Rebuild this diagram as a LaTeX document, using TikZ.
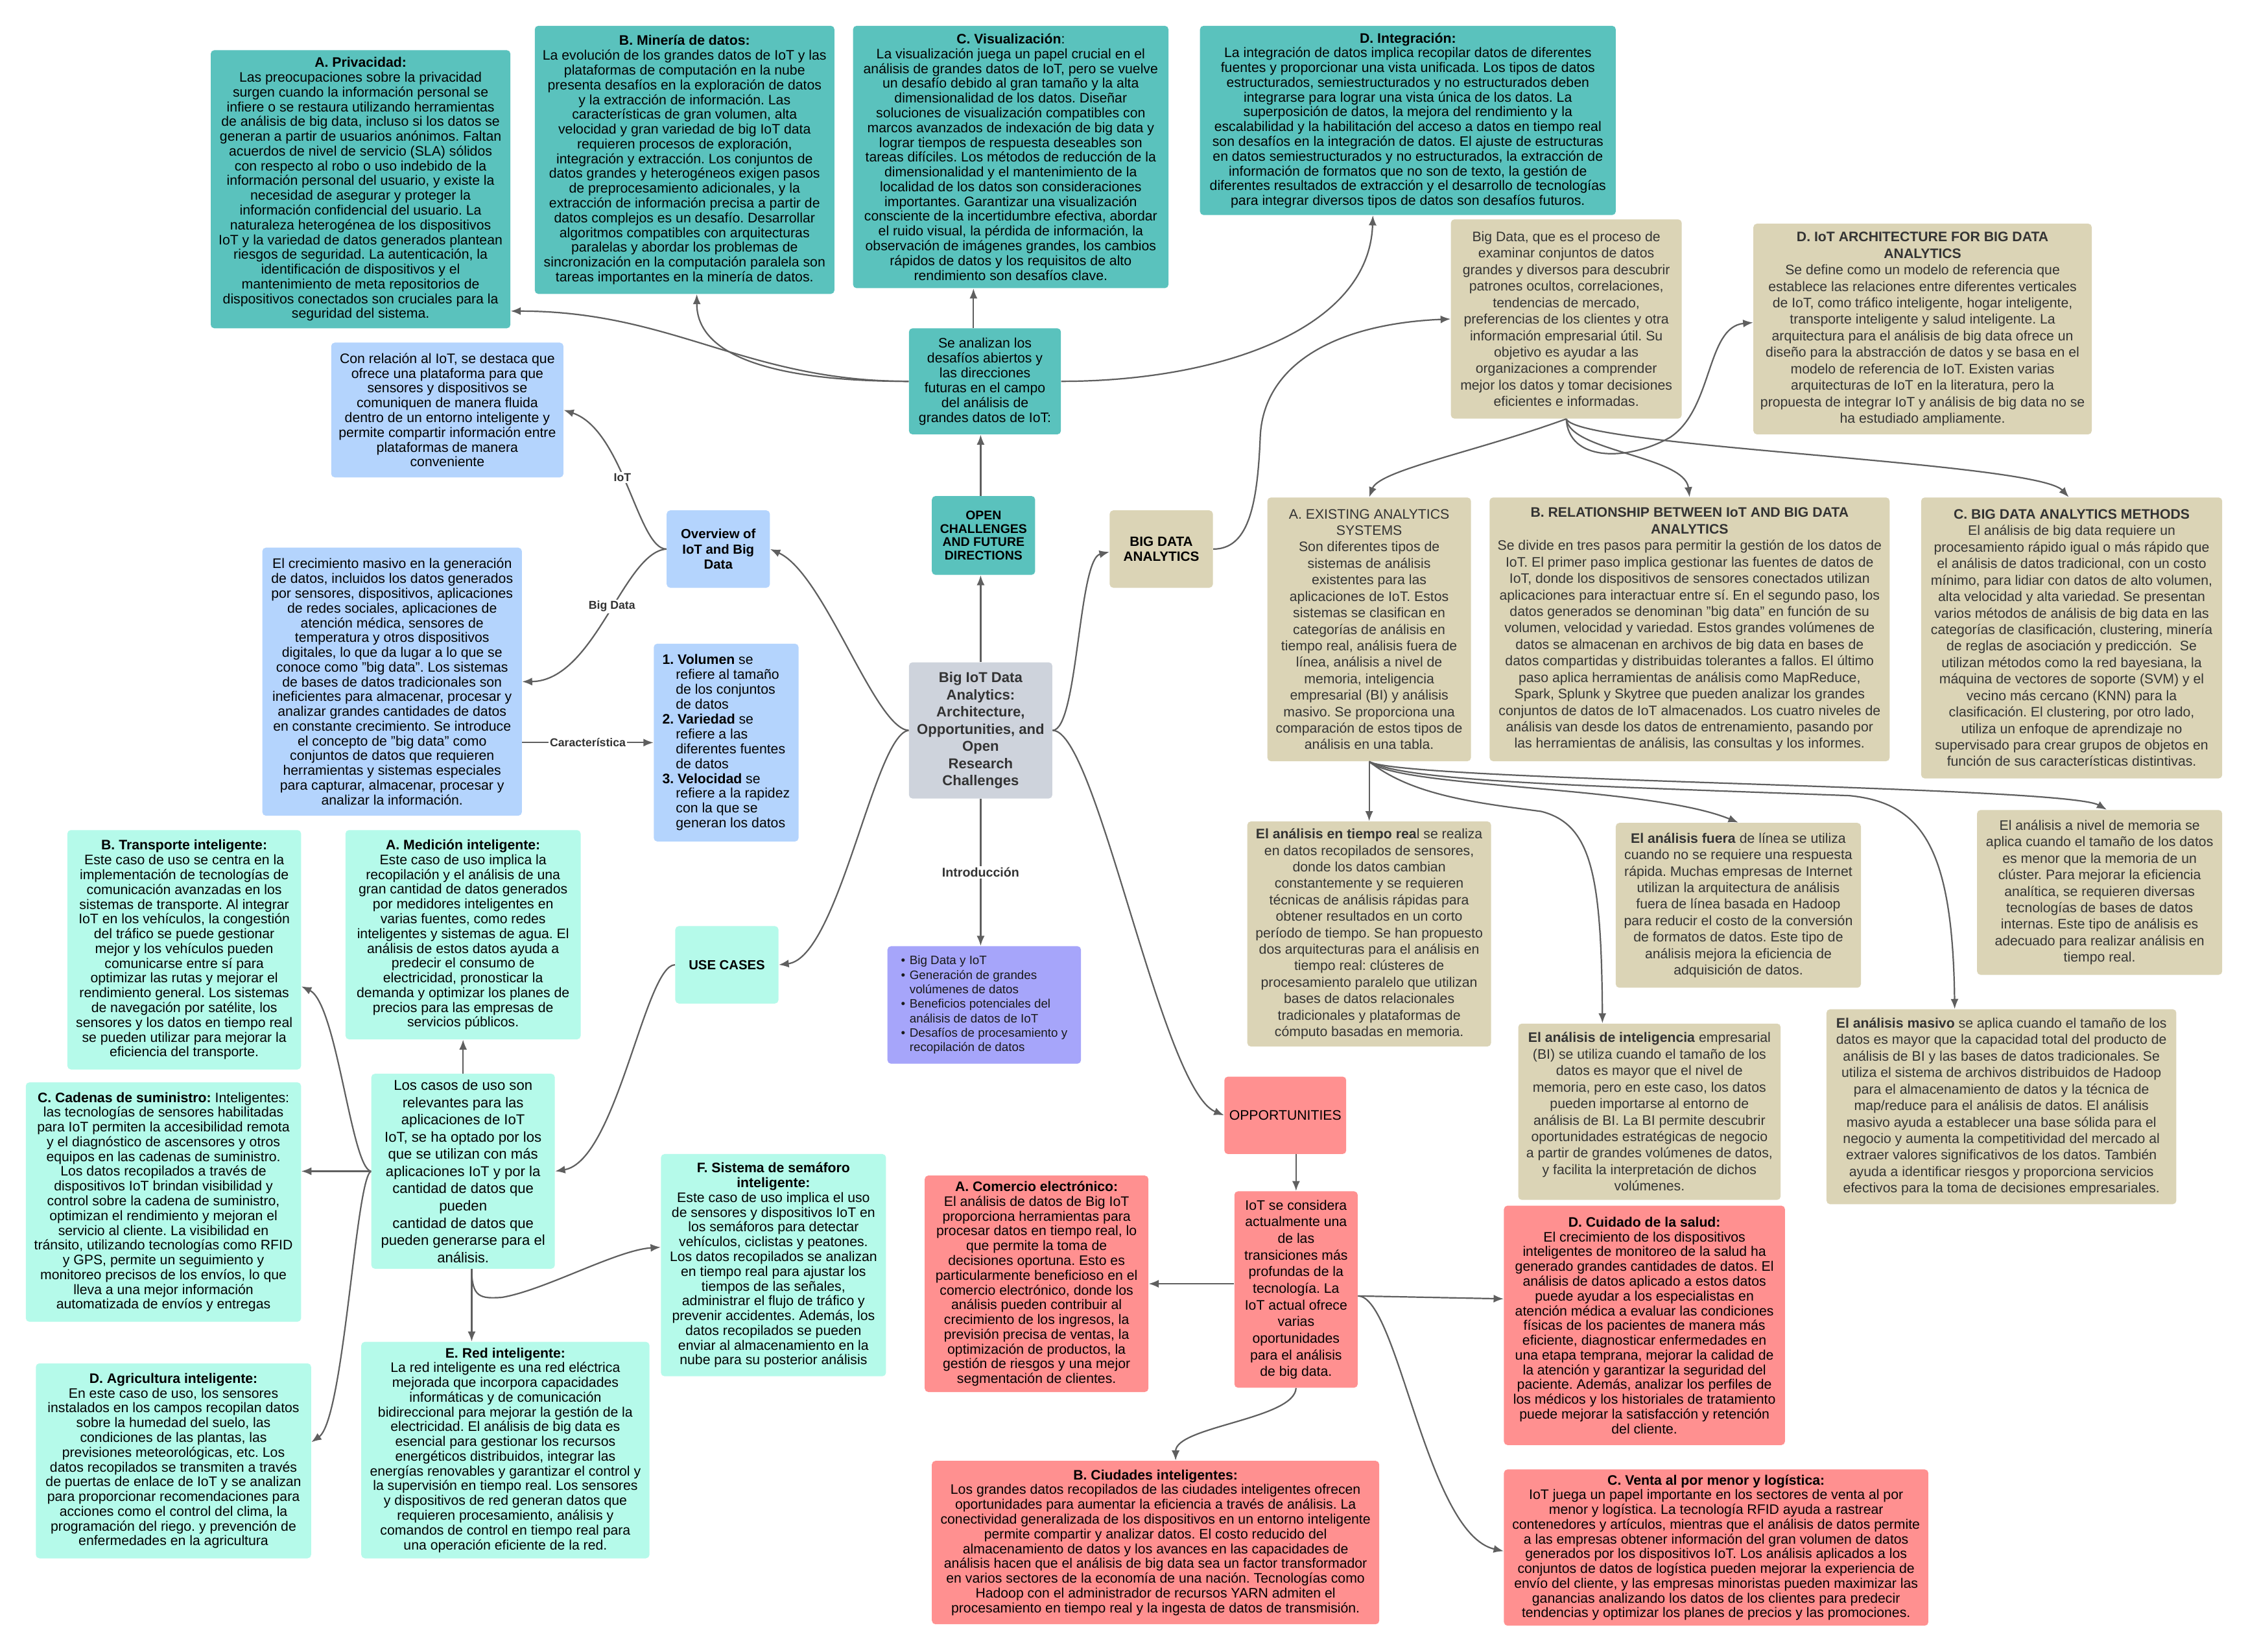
\documentclass[tikz,border=0pt]{standalone}
\usepackage{fontspec}
\setmainfont{Liberation Sans}
\usetikzlibrary{arrows.meta}
\frenchspacing
\definecolor{cteal}{HTML}{5AC2BD}
\definecolor{cblue}{HTML}{B4D4FD}
\definecolor{cgray}{HTML}{CED3DC}
\definecolor{cpurple}{HTML}{A6A5FA}
\definecolor{ctan}{HTML}{DBD4B6}
\definecolor{cmint}{HTML}{B5FAEA}
\definecolor{cpink}{HTML}{FF9090}
\definecolor{cline}{HTML}{5F5F5F}
\definecolor{ctext}{HTML}{333333}
\tikzset{
  bx/.style={rounded corners=2.5pt, inner sep=0pt, align=center, text=black},
  sz/.style 2 args={minimum width=#1pt, minimum height=#2pt},
  nf/.style={font=\fontsize{9.6}{10.3}\selectfont},
  wf/.style={font=\fontsize{9.6}{11.5}\selectfont},
  tealbox/.style={bx, fill=cteal, nf},
  bluebox/.style={bx, fill=cblue, nf},
  mintbox/.style={bx, fill=cmint, nf},
  pinkbox/.style={bx, fill=cpink, nf},
  tanbox/.style={bx, fill=ctan, wf, text=ctext},
  conn/.style={draw=cline, line width=1pt, -{Latex[length=7pt,width=5.5pt]}},
  lbl/.style={fill=white, inner sep=1pt, text=ctext, font=\fontsize{8}{9}\selectfont\bfseries},
}
\begin{document}
\begin{tikzpicture}[x=1pt, y=-1pt]
\useasboundingbox[fill=white] (0,0) rectangle (1568,1152);

% ---------- Open challenges (teal) ----------
\node[tealbox, sz={209}{194}] (priv) at (251.5,132) {\textbf{A. Privacidad:}\\
Las preocupaciones sobre la privacidad\\
surgen cuando la información personal se\\
infiere o se restaura utilizando herramientas\\
de análisis de big data, incluso si los datos se\\
generan a partir de usuarios anónimos. Faltan\\
acuerdos de nivel de servicio (SLA) sólidos\\
con respecto al robo o uso indebido de la\\
información personal del usuario, y existe la\\
necesidad de asegurar y proteger la\\
información confidencial del usuario. La\\
naturaleza heterogénea de los dispositivos\\
IoT y la variedad de datos generados plantean\\
riesgos de seguridad. La autenticación, la\\
identificación de dispositivos y el\\
mantenimiento de meta repositorios de\\
dispositivos conectados son cruciales para la\\
seguridad del sistema.};

\node[tealbox, sz={209}{187}] (mineria) at (477.5,111.5) {\textbf{B. Minería de datos:}\\
La evolución de los grandes datos de IoT y las\\
plataformas de computación en la nube\\
presenta desafíos en la exploración de datos\\
y la extracción de información. Las\\
características de gran volumen, alta\\
velocidad y gran variedad de big IoT data\\
requieren procesos de exploración,\\
integración y extracción. Los conjuntos de\\
datos grandes y heterogéneos exigen pasos\\
de preprocesamiento adicionales, y la\\
extracción de información precisa a partir de\\
datos complejos es un desafío. Desarrollar\\
algoritmos compatibles con arquitecturas\\
paralelas y abordar los problemas de\\
sincronización en la computación paralela son\\
tareas importantes en la minería de datos.};

\node[tealbox, sz={220}{183}] (visu) at (705,109.5) {\textbf{C. Visualización}:\\
La visualización juega un papel crucial en el\\
análisis de grandes datos de IoT, pero se vuelve\\
un desafío debido al gran tamaño y la alta\\
dimensionalidad de los datos. Diseñar\\
soluciones de visualización compatibles con\\
marcos avanzados de indexación de big data y\\
lograr tiempos de respuesta deseables son\\
tareas difíciles. Los métodos de reducción de la\\
dimensionalidad y el mantenimiento de la\\
localidad de los datos son consideraciones\\
importantes. Garantizar una visualización\\
consciente de la incertidumbre efectiva, abordar\\
el ruido visual, la pérdida de información, la\\
observación de imágenes grandes, los cambios\\
rápidos de datos y los requisitos de alto\\
rendimiento son desafíos clave.};

\node[tealbox, sz={290}{132}] (integ) at (982,84) {\textbf{D. Integración:}\\
La integración de datos implica recopilar datos de diferentes\\
fuentes y proporcionar una vista unificada. Los tipos de datos\\
estructurados, semiestructurados y no estructurados deben\\
integrarse para lograr una vista única de los datos. La\\
superposición de datos, la mejora del rendimiento y la\\
escalabilidad y la habilitación del acceso a datos en tiempo real\\
son desafíos en la integración de datos. El ajuste de estructuras\\
en datos semiestructurados y no estructurados, la extracción de\\
información de formatos que no son de texto, la gestión de\\
diferentes resultados de extracción y el desarrollo de tecnologías\\
para integrar diversos tipos de datos son desafíos futuros.};

\node[tealbox, sz={106}{74}, font=\fontsize{9.6}{10.4}\selectfont] (analizan) at (687,266) {Se analizan los\\desafíos abiertos y\\las direcciones\\futuras en el campo\\del análisis de\\grandes datos de IoT:};

\node[tealbox, sz={72}{55}, font=\fontsize{8.8}{9.4}\selectfont\bfseries] (open) at (686,373.5) {OPEN\\CHALLENGES\\AND FUTURE\\DIRECTIONS};

% ---------- Overview (blue) ----------
\node[bluebox, sz={72}{54}, font=\fontsize{9.2}{10.7}\selectfont\bfseries] (overview) at (501,383) {Overview of\\IoT and Big\\Data};

\node[bluebox, sz={162}{94}] (iotbox) at (312,286) {Con relación al IoT, se destaca que\\
ofrece una plataforma para que\\
sensores y dispositivos se\\
comuniquen de manera fluida\\
dentro de un entorno inteligente y\\
permite compartir información entre\\
plataformas de manera\\
conveniente};

\node[bluebox, sz={181}{187}] (bigdatabox) at (273.5,475.5) {El crecimiento masivo en la generación\\
de datos, incluidos los datos generados\\
por sensores, dispositivos, aplicaciones\\
de redes sociales, aplicaciones de\\
atención médica, sensores de\\
temperatura y otros dispositivos\\
digitales, lo que da lugar a lo que se\\
conoce como "big data". Los sistemas\\
de bases de datos tradicionales son\\
ineficientes para almacenar, procesar y\\
analizar grandes cantidades de datos\\
en constante crecimiento. Se introduce\\
el concepto de "big data" como\\
conjuntos de datos que requieren\\
herramientas y sistemas especiales\\
para capturar, almacenar, procesar y\\
analizar la información.};

\node[bluebox, sz={101}{138}, align=left, font=\fontsize{9.6}{10.35}\selectfont] (carac) at (506.5,518) {\textbf{1. Volumen} se\\
\hspace*{9.4pt}refiere al tamaño\\
\hspace*{9.4pt}de los conjuntos\\
\hspace*{9.4pt}de datos\\
\textbf{2. Variedad} se\\
\hspace*{9.4pt}refiere a las\\
\hspace*{9.4pt}diferentes fuentes\\
\hspace*{9.4pt}de datos\\
\textbf{3. Velocidad} se\\
\hspace*{9.4pt}refiere a la rapidez\\
\hspace*{9.4pt}con la que se\\
\hspace*{9.4pt}generan los datos};

% ---------- Central ----------
\node[bx, fill=cgray, text=ctext, sz={100}{95}, font=\fontsize{10}{12}\selectfont\bfseries] (central) at (684,509.5) {Big IoT Data\\Analytics:\\Architecture,\\Opportunities, and\\Open\\Research\\Challenges};

\node[bx, fill=cpurple, sz={135}{82}, align=left, text=black!90, font=\fontsize{8.5}{10.1}\selectfont] (intro) at (686.5,701) {\makebox[6pt][l]{\textbullet}Big Data y IoT\\
\makebox[6pt][l]{\textbullet}Generación de grandes\\
\hspace*{6pt}volúmenes de datos\\
\makebox[6pt][l]{\textbullet}Beneficios potenciales del\\
\hspace*{6pt}análisis de datos de IoT\\
\makebox[6pt][l]{\textbullet}Desafíos de procesamiento y\\
\hspace*{6pt}recopilación de datos};

% ---------- Big data analytics (tan) ----------
\node[bx, fill=ctan, sz={72}{54}, font=\fontsize{9.4}{10.4}\selectfont\bfseries] (bda) at (810,383) {BIG DATA\\ANALYTICS};

\node[tanbox, sz={161}{139}] (bdesc) at (1092.5,222.5) {Big Data, que es el proceso de\\
examinar conjuntos de datos\\
grandes y diversos para descubrir\\
patrones ocultos, correlaciones,\\
tendencias de mercado,\\
preferencias de los clientes y otra\\
información empresarial útil. Su\\
objetivo es ayudar a las\\
organizaciones a comprender\\
mejor los datos y tomar decisiones\\
eficientes e informadas.};

\node[tanbox, sz={236}{147}] (arch) at (1341,229.5) {\textbf{D. IoT ARCHITECTURE FOR BIG DATA}\\
\textbf{ANALYTICS}\\
Se define como un modelo de referencia que\\
establece las relaciones entre diferentes verticales\\
de IoT, como tráfico inteligente, hogar inteligente,\\
transporte inteligente y salud inteligente. La\\
arquitectura para el análisis de big data ofrece un\\
diseño para la abstracción de datos y se basa en el\\
modelo de referencia de IoT. Existen varias\\
arquitecturas de IoT en la literatura, pero la\\
propuesta de integrar IoT y análisis de big data no se\\
ha estudiado ampliamente.};

\node[tanbox, sz={142}{184}] (exist) at (955,439) {A. EXISTING ANALYTICS\\
SYSTEMS\\
Son diferentes tipos de\\
sistemas de análisis\\
existentes para las\\
aplicaciones de IoT. Estos\\
sistemas se clasifican en\\
categorías de análisis en\\
tiempo real, análisis fuera de\\
línea, análisis a nivel de\\
memoria, inteligencia\\
empresarial (BI) y análisis\\
masivo. Se proporciona una\\
comparación de estos tipos de\\
análisis en una tabla.};

\node[tanbox, sz={279}{184}] (relat) at (1178.5,439) {\textbf{B. RELATIONSHIP BETWEEN IoT AND BIG DATA}\\
\textbf{ANALYTICS}\\
Se divide en tres pasos para permitir la gestión de los datos de\\
IoT. El primer paso implica gestionar las fuentes de datos de\\
IoT, donde los dispositivos de sensores conectados utilizan\\
aplicaciones para interactuar entre sí. En el segundo paso, los\\
datos generados se denominan "big data" en función de su\\
volumen, velocidad y variedad. Estos grandes volúmenes de\\
datos se almacenan en archivos de big data en bases de\\
datos compartidas y distribuidas tolerantes a fallos. El último\\
paso aplica herramientas de análisis como MapReduce,\\
Spark, Splunk y Skytree que pueden analizar los grandes\\
conjuntos de datos de IoT almacenados. Los cuatro niveles de\\
análisis van desde los datos de entrenamiento, pasando por\\
las herramientas de análisis, las consultas y los informes.};

\node[tanbox, sz={210}{196}] (methods) at (1445,445) {\textbf{C. BIG DATA ANALYTICS METHODS}\\
El análisis de big data requiere un\\
procesamiento rápido igual o más rápido que\\
el análisis de datos tradicional, con un costo\\
mínimo, para lidiar con datos de alto volumen,\\
alta velocidad y alta variedad. Se presentan\\
varios métodos de análisis de big data en las\\
categorías de clasificación, clustering, minería\\
de reglas de asociación y predicción.\ \ Se\\
utilizan métodos como la red bayesiana, la\\
máquina de vectores de soporte (SVM) y el\\
vecino más cercano (KNN) para la\\
clasificación. El clustering, por otro lado,\\
utiliza un enfoque de aprendizaje no\\
supervisado para crear grupos de objetos en\\
función de sus características distintivas.};

\node[tanbox, sz={170}{157}] (realtime) at (955,651.5) {\textbf{El análisis en tiempo rea}l se realiza\\
en datos recopilados de sensores,\\
donde los datos cambian\\
constantemente y se requieren\\
técnicas de análisis rápidas para\\
obtener resultados en un corto\\
período de tiempo. Se han propuesto\\
dos arquitecturas para el análisis en\\
tiempo real: clústeres de\\
procesamiento paralelo que utilizan\\
bases de datos relacionales\\
tradicionales y plataformas de\\
cómputo basadas en memoria.};

\node[tanbox, sz={171}{115}] (offline) at (1212.5,631.5) {\textbf{El análisis fuera} de línea se utiliza\\
cuando no se requiere una respuesta\\
rápida. Muchas empresas de Internet\\
utilizan la arquitectura de análisis\\
fuera de línea basada en Hadoop\\
para reducir el costo de la conversión\\
de formatos de datos. Este tipo de\\
análisis mejora la eficiencia de\\
adquisición de datos.};

\node[tanbox, sz={171}{115}] (memory) at (1464.5,622.5) {El análisis a nivel de memoria se\\
aplica cuando el tamaño de los datos\\
es menor que la memoria de un\\
clúster. Para mejorar la eficiencia\\
analítica, se requieren diversas\\
tecnologías de bases de datos\\
internas. Este tipo de análisis es\\
adecuado para realizar análisis en\\
tiempo real.};

\node[tanbox, sz={183}{123}] (bi) at (1150.5,775.5) {\textbf{El análisis de inteligencia} empresarial\\
(BI) se utiliza cuando el tamaño de los\\
datos es mayor que el nivel de\\
memoria, pero en este caso, los datos\\
pueden importarse al entorno de\\
análisis de BI. La BI permite descubrir\\
oportunidades estratégicas de negocio\\
a partir de grandes volúmenes de datos,\\
y facilita la interpretación de dichos\\
volúmenes.};

\node[tanbox, sz={244}{136}] (massive) at (1396,772) {\textbf{El análisis masivo} se aplica cuando el tamaño de los\\
datos es mayor que la capacidad total del producto de\\
análisis de BI y las bases de datos tradicionales. Se\\
utiliza el sistema de archivos distribuidos de Hadoop\\
para el almacenamiento de datos y la técnica de\\
map/reduce para el análisis de datos. El análisis\\
masivo ayuda a establecer una base sólida para el\\
negocio y aumenta la competitividad del mercado al\\
extraer valores significativos de los datos. También\\
ayuda a identificar riesgos y proporciona servicios\\
efectivos para la toma de decisiones empresariales.};

% ---------- Opportunities (pink) ----------
\node[pinkbox, sz={85}{54}] (opps) at (896.5,778) {OPPORTUNITIES};

\node[pinkbox, sz={86}{137}, font=\fontsize{9.6}{11.6}\selectfont] (oppdesc) at (904,899.5) {IoT se considera\\actualmente una\\de las\\transiciones más\\profundas de la\\tecnología. La\\IoT actual ofrece\\varias\\oportunidades\\para el análisis\\de big data.};

\node[pinkbox, sz={156}{151}] (ecom) at (723,895.5) {\textbf{A. Comercio electrónico:}\\
El análisis de datos de Big IoT\\
proporciona herramientas para\\
procesar datos en tiempo real, lo\\
que permite la toma de\\
decisiones oportuna. Esto es\\
particularmente beneficioso en el\\
comercio electrónico, donde los\\
análisis pueden contribuir al\\
crecimiento de los ingresos, la\\
previsión precisa de ventas, la\\
optimización de productos, la\\
gestión de riesgos y una mejor\\
segmentación de clientes.};

\node[pinkbox, sz={312}{114}] (cities) at (806,1076) {\textbf{B. Ciudades inteligentes:}\\
Los grandes datos recopilados de las ciudades inteligentes ofrecen\\
oportunidades para aumentar la eficiencia a través de análisis. La\\
conectividad generalizada de los dispositivos en un entorno inteligente\\
permite compartir y analizar datos. El costo reducido del\\
almacenamiento de datos y los avances en las capacidades de\\
análisis hacen que el análisis de big data sea un factor transformador\\
en varios sectores de la economía de una nación. Tecnologías como\\
Hadoop con el administrador de recursos YARN admiten el\\
procesamiento en tiempo real y la ingesta de datos de transmisión.};

\node[pinkbox, sz={196}{167}] (health) at (1147,924.5) {\textbf{D. Cuidado de la salud:}\\
El crecimiento de los dispositivos\\
inteligentes de monitoreo de la salud ha\\
generado grandes cantidades de datos. El\\
análisis de datos aplicado a estos datos\\
puede ayudar a los especialistas en\\
atención médica a evaluar las condiciones\\
físicas de los pacientes de manera más\\
eficiente, diagnosticar enfermedades en\\
una etapa temprana, mejorar la calidad de\\
la atención y garantizar la seguridad del\\
paciente. Además, analizar los perfiles de\\
los médicos y los historiales de tratamiento\\
puede mejorar la satisfacción y retención\\
del cliente.};

\node[pinkbox, sz={296}{109}] (retail) at (1197,1079.5) {\textbf{C. Venta al por menor y logística:}\\
IoT juega un papel importante en los sectores de venta al por\\
menor y logística. La tecnología RFID ayuda a rastrear\\
contenedores y artículos, mientras que el análisis de datos permite\\
a las empresas obtener información del gran volumen de datos\\
generados por los dispositivos IoT. Los análisis aplicados a los\\
conjuntos de datos de logística pueden mejorar la experiencia de\\
envío del cliente, y las empresas minoristas pueden maximizar las\\
ganancias analizando los datos de los clientes para predecir\\
tendencias y optimizar los planes de precios y las promociones.};

% ---------- Use cases (mint) ----------
\node[mintbox, sz={72}{54}, font=\fontsize{9.2}{10.7}\selectfont\bfseries] (usecases) at (507,673) {USE CASES};

\node[mintbox, sz={128}{136}, font=\fontsize{10}{12}\selectfont] (casos) at (323,817) {Los casos de uso son\\
relevantes para las\\
aplicaciones de IoT\\
IoT, se ha optado por los\\
que se utilizan con más\\
aplicaciones IoT y por la\\
cantidad de datos que\\
pueden\\
cantidad de datos que\\
pueden generarse para el\\
análisis.};

\node[mintbox, sz={163}{167}] (transp) at (128.5,662.5) {\textbf{B. Transporte inteligente:}\\
Este caso de uso se centra en la\\
implementación de tecnologías de\\
comunicación avanzadas en los\\
sistemas de transporte. Al integrar\\
IoT en los vehículos, la congestión\\
del tráfico se puede gestionar\\
mejor y los vehículos pueden\\
comunicarse entre sí para\\
optimizar las rutas y mejorar el\\
rendimiento general. Los sistemas\\
de navegación por satélite, los\\
sensores y los datos en tiempo real\\
se pueden utilizar para mejorar la\\
eficiencia del transporte.};

\node[mintbox, sz={164}{146}] (metering) at (323,652) {\textbf{A. Medición inteligente:}\\
Este caso de uso implica la\\
recopilación y el análisis de una\\
gran cantidad de datos generados\\
por medidores inteligentes en\\
varias fuentes, como redes\\
inteligentes y sistemas de agua. El\\
análisis de estos datos ayuda a\\
predecir el consumo de\\
electricidad, pronosticar la\\
demanda y optimizar los planes de\\
precios para las empresas de\\
servicios públicos.};

\node[mintbox, sz={192}{167}] (supply) at (114,838.5) {\textbf{C. Cadenas de suministro:} Inteligentes:\\
las tecnologías de sensores habilitadas\\
para IoT permiten la accesibilidad remota\\
y el diagnóstico de ascensores y otros\\
equipos en las cadenas de suministro.\\
Los datos recopilados a través de\\
dispositivos IoT brindan visibilidad y\\
control sobre la cadena de suministro,\\
optimizan el rendimiento y mejoran el\\
servicio al cliente. La visibilidad en\\
tránsito, utilizando tecnologías como RFID\\
y GPS, permite un seguimiento y\\
monitoreo precisos de los envíos, lo que\\
lleva a una mejor información\\
automatizada de envíos y entregas};

\node[mintbox, sz={192}{136}] (agri) at (121,1019) {\textbf{D. Agricultura inteligente:}\\
En este caso de uso, los sensores\\
instalados en los campos recopilan datos\\
sobre la humedad del suelo, las\\
condiciones de las plantas, las\\
previsiones meteorológicas, etc. Los\\
datos recopilados se transmiten a través\\
de puertas de enlace de IoT y se analizan\\
para proporcionar recomendaciones para\\
acciones como el control del clima, la\\
programación del riego. y prevención de\\
enfermedades en la agricultura};

\node[mintbox, sz={201}{151}] (grid) at (352.5,1011.5) {\textbf{E. Red inteligente:}\\
La red inteligente es una red eléctrica\\
mejorada que incorpora capacidades\\
informáticas y de comunicación\\
bidireccional para mejorar la gestión de la\\
electricidad. El análisis de big data es\\
esencial para gestionar los recursos\\
energéticos distribuidos, integrar las\\
energías renovables y garantizar el control y\\
la supervisión en tiempo real. Los sensores\\
y dispositivos de red generan datos que\\
requieren procesamiento, análisis y\\
comandos de control en tiempo real para\\
una operación eficiente de la red.};

\node[mintbox, sz={157}{155}] (traffic) at (539.5,882.5) {\textbf{F. Sistema de semáforo}\\
\textbf{inteligente:}\\
Este caso de uso implica el uso\\
de sensores y dispositivos IoT en\\
los semáforos para detectar\\
vehículos, ciclistas y peatones.\\
Los datos recopilados se analizan\\
en tiempo real para ajustar los\\
tiempos de las señales,\\
administrar el flujo de tráfico y\\
prevenir accidentes. Además, los\\
datos recopilados se pueden\\
enviar al almacenamiento en la\\
nube para su posterior análisis};

% ---------- Connectors ----------
% central hub
\draw[conn] (central.west) .. controls (610,508) and (575,400) .. (overview.east);
\draw[conn] (central.west) .. controls (610,512) and (585,668) .. (usecases.east);
\draw[conn] (central.north) -- (central.north |- open.south);
\draw[conn] (central.north |- open.north) -- (central.north |- analizan.south);
\draw[conn] (central.east) .. controls (752,509) and (752,390) .. ([yshift=-2pt]bda.west);
\draw[conn] (central.east) .. controls (765,509) and (810,760) .. (opps.west);
\draw[conn] (central.south) -- (central.south |- intro.north)
  node[lbl, midway, font=\fontsize{8.9}{10}\selectfont\bfseries] {Introducción};

% open challenges
\coordinate (ax) at ([xshift=-8pt]analizan.north);
\draw[conn] (ax) -- (ax |- visu.south);
\draw[conn] (analizan.west) .. controls (560,266) and (486,255) .. ([xshift=8.5pt]mineria.south);
\draw[conn] (analizan.west) .. controls (520,266) and (470,217) .. ([yshift=-85pt]priv.east);
\draw[conn] (analizan.east) .. controls (850,266) and (955,230) .. ([xshift=-24.4pt]integ.south);

% overview
\draw[conn] (overview.west) .. controls (445,383) and (435,300) .. (iotbox.east)
  node[lbl, pos=0.55] {IoT};
\draw[conn] (overview.west) .. controls (435,385) and (415,475) .. (bigdatabox.east)
  node[lbl, pos=0.45] {Big Data};
\draw[conn] (bigdatabox.east |- carac.west) -- (carac.west)
  node[lbl, midway] {Característica};

% big data analytics
\draw[conn] (bda.east) .. controls (870,383) and (877,355) .. (879,305)
  .. controls (881,255) and (930,226) .. (bdesc.west);
\draw[conn] (bdesc.south) .. controls (1094,322) and (1135,322) .. (1165,305)
  .. controls (1195,285) and (1190,228) .. ([yshift=4.5pt]arch.west);
\draw[conn] (bdesc.south) .. controls (1030,315) and (962,328) .. (exist.north);
\draw[conn] (bdesc.south) .. controls (1095,315) and (1175,318) .. (relat.north);
\draw[conn] (bdesc.south) .. controls (1100,312) and (1420,322) .. ([xshift=-2pt]methods.north);
\draw[conn] (exist.south) -- (realtime.north);
\draw[conn] (exist.south) .. controls (975,550) and (1150,548) .. (offline.north);
\draw[conn] (exist.south) .. controls (985,555) and (1030,560) .. (1075,566)
  .. controls (1110,575) and (1117,610) .. ([xshift=-32.8pt]bi.north);
\draw[conn] (exist.south) .. controls (980,545) and (1100,548) .. (1290,555)
  .. controls (1340,560) and (1362,590) .. ([xshift=-32.6pt]massive.north);
\draw[conn] (exist.south) .. controls (975,545) and (1440,548) .. ([xshift=5pt]memory.north);

% opportunities
\draw[conn] (oppdesc.north |- opps.south) -- (oppdesc.north);
\draw[conn] (ecom.east -| oppdesc.west) -- (ecom.east);
\draw[conn] ([yshift=-4.5pt]oppdesc.east) -- ([yshift=18.5pt]health.west);
\draw[conn] ([yshift=-4.5pt]oppdesc.east) .. controls (975,904) and (995,1070) .. ([yshift=-2.5pt]retail.west);
\draw[conn] (oppdesc.south) .. controls (903,990) and (820,995) .. ([xshift=14pt]cities.north);

% use cases
\draw[conn] (usecases.west) .. controls (450,673) and (430,810) .. (casos.east);
\draw[conn] (casos.west) -- (casos.west -| supply.east);
\draw[conn] (casos.west) .. controls (245,815) and (235,700) .. ([yshift=-25.5pt]transp.east);
\draw[conn] (casos.west) .. controls (248,822) and (240,990) .. ([yshift=13pt]agri.east);
\draw[conn] (casos.north) -- (metering.south);
\coordinate (cs) at ([xshift=6pt]casos.south);
\draw[conn] (cs) -- (cs |- grid.north);
\draw[conn] (cs) .. controls (329,905) and (335,906) .. (350,905)
  .. controls (380,900) and (430,872) .. ([yshift=12.5pt]traffic.west);
\end{tikzpicture}
\end{document}
